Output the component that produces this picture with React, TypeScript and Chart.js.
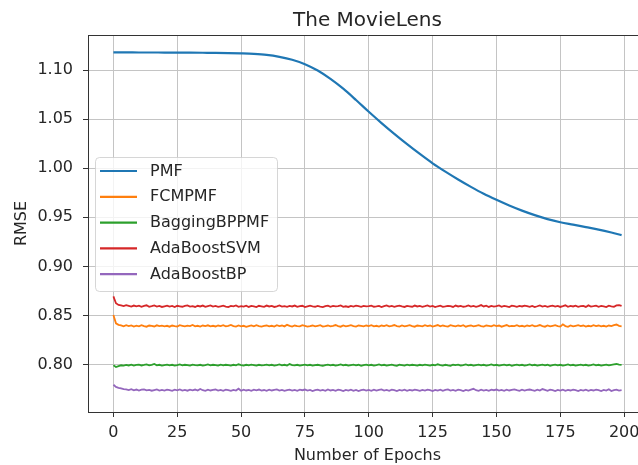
import { useEffect, useRef } from "react";
import { Chart, registerables } from "chart.js";

Chart.register(...registerables);

const FONT = "'DejaVu Sans', 'Liberation Sans', sans-serif";

const chartTitle = "The MovieLens";
const xAxisTitle = "Number of Epochs";
const yAxisTitle = "RMSE";

const seriesNames = ["PMF", "FCMPMF", "BaggingBPPMF", "AdaBoostSVM", "AdaBoostBP"];
const seriesColors = ["#1f77b4", "#ff7f0e", "#2ca02c", "#d62728", "#9467bd"];

const xTickValues = [0, 25, 50, 75, 100, 125, 150, 175, 200];
const yTickValues = [0.8, 0.85, 0.9, 0.95, 1.0, 1.05, 1.1];

// epochs 0..199 for the noisy series
const epochs = Array.from({ length: 200 }, (_, i) => i);

// PMF read at sparse epochs (smooth curve)
const pmfEpochs = [
  0, 5, 10, 15, 20, 25, 30, 35, 40, 45, 50, 55, 60, 65, 70, 75, 80, 85, 90, 95,
  100, 105, 110, 115, 120, 125, 130, 135, 140, 145, 150, 155, 160, 165, 170, 175,
  180, 185, 190, 195, 199,
];
const pmfRmse = [
  1.118, 1.118, 1.1179, 1.1179, 1.1178, 1.1178, 1.1177, 1.1176, 1.1175, 1.1173,
  1.117, 1.1165, 1.1155, 1.1135, 1.1105, 1.106, 1.0995, 1.091, 1.081, 1.0695,
  1.0575, 1.046, 1.035, 1.0245, 1.0145, 1.005, 0.9965, 0.9885, 0.981, 0.974,
  0.9678, 0.962, 0.9568, 0.9522, 0.9482, 0.945, 0.9425, 0.94, 0.9375, 0.9345,
  0.9318,
];

const fcmpmfRmse = [
  0.8505, 0.842, 0.8405, 0.8399, 0.839, 0.8401, 0.8392, 0.8399, 0.8387, 0.8397, 0.839, 0.8402, 0.8392, 0.8386, 0.8398, 0.8395, 0.8388, 0.84, 0.8392, 0.8397,
  0.839, 0.8395, 0.8386, 0.8398, 0.8392, 0.8388, 0.8401, 0.8395, 0.8389, 0.8397, 0.8392, 0.8403, 0.8389, 0.8395, 0.8387, 0.8398, 0.8392, 0.84, 0.8389, 0.8395,
  0.8388, 0.8398, 0.8392, 0.8401, 0.8389, 0.8395, 0.8404, 0.8392, 0.8387, 0.8398, 0.839, 0.8395, 0.8385, 0.8392, 0.8399, 0.8389, 0.8401, 0.8392, 0.8387, 0.8395,
  0.8398, 0.8389, 0.8395, 0.8387, 0.8401, 0.8392, 0.8398, 0.8389, 0.8405, 0.8395, 0.8387, 0.8398, 0.8392, 0.8389, 0.8401, 0.8395, 0.8387, 0.8392, 0.8398, 0.8389,
  0.8395, 0.8401, 0.8387, 0.8392, 0.8398, 0.8389, 0.8395, 0.8403, 0.8392, 0.8386, 0.8398, 0.8389, 0.8395, 0.8401, 0.8392, 0.8387, 0.8398, 0.8395, 0.8389, 0.8398,
  0.8392, 0.8401, 0.8389, 0.8395, 0.8387, 0.8398, 0.8392, 0.8401, 0.8389, 0.8395, 0.8403, 0.8392, 0.8387, 0.8398, 0.8389, 0.8395, 0.8401, 0.8392, 0.8386, 0.8398,
  0.8395, 0.8389, 0.8401, 0.8392, 0.8398, 0.8387, 0.8395, 0.8403, 0.8389, 0.8398, 0.8392, 0.8387, 0.8401, 0.8395, 0.8389, 0.8398, 0.8392, 0.8401, 0.8386, 0.8395,
  0.8398, 0.8389, 0.8395, 0.8401, 0.8392, 0.8387, 0.8398, 0.8395, 0.8389, 0.8401, 0.8392, 0.8398, 0.8386, 0.8395, 0.8403, 0.8389, 0.8395, 0.8392, 0.8401, 0.8389,
  0.8395, 0.8387, 0.8398, 0.8392, 0.8401, 0.8389, 0.8395, 0.8403, 0.8392, 0.8386, 0.8398, 0.8389, 0.8395, 0.8401, 0.8392, 0.8387, 0.841, 0.8392, 0.8385, 0.8398,
  0.8389, 0.8395, 0.8401, 0.8392, 0.8398, 0.8387, 0.8395, 0.8389, 0.8401, 0.8392, 0.8398, 0.8389, 0.8395, 0.8387, 0.8398, 0.8392, 0.8401, 0.8408, 0.8395, 0.839,
];

const baggingRmse = [
  0.7992, 0.7975, 0.7985, 0.7993, 0.7989, 0.7997, 0.7991, 0.7999, 0.7989, 0.7996, 0.8, 0.7991, 0.7996, 0.8002, 0.7992, 0.7998, 0.8006, 0.7992, 0.7998, 0.799,
  0.7995, 0.8, 0.7992, 0.7998, 0.799, 0.7995, 0.8002, 0.7992, 0.7998, 0.7995, 0.799, 0.8, 0.7995, 0.7992, 0.7998, 0.799, 0.7995, 0.8002, 0.7992, 0.7998,
  0.7995, 0.799, 0.8, 0.7992, 0.7998, 0.7995, 0.7989, 0.7998, 0.7992, 0.8003, 0.7995, 0.799, 0.7998, 0.7992, 0.8, 0.7995, 0.7989, 0.7998, 0.7992, 0.7995,
  0.8, 0.7992, 0.7998, 0.799, 0.7995, 0.8002, 0.7992, 0.7998, 0.799, 0.8005, 0.7995, 0.7992, 0.7998, 0.799, 0.7995, 0.8, 0.7992, 0.7998, 0.7989, 0.7995,
  0.7998, 0.7992, 0.7988, 0.7995, 0.8, 0.7992, 0.7998, 0.799, 0.7995, 0.8002, 0.7992, 0.7998, 0.799, 0.7995, 0.8, 0.7992, 0.7998, 0.7988, 0.7995, 0.8,
  0.7992, 0.7998, 0.799, 0.7995, 0.8002, 0.7992, 0.7998, 0.799, 0.7995, 0.8, 0.7992, 0.7987, 0.7998, 0.7995, 0.799, 0.8, 0.7992, 0.7998, 0.7995, 0.799,
  0.7998, 0.7992, 0.8, 0.7995, 0.799, 0.7998, 0.7992, 0.8003, 0.7995, 0.799, 0.7998, 0.7992, 0.7987, 0.7998, 0.7995, 0.8, 0.799, 0.7995, 0.8002, 0.7992,
  0.7998, 0.799, 0.7995, 0.8, 0.7992, 0.7998, 0.799, 0.7995, 0.8002, 0.7992, 0.7998, 0.799, 0.7995, 0.8, 0.7992, 0.7998, 0.7988, 0.7995, 0.8, 0.7992,
  0.7998, 0.799, 0.7995, 0.8002, 0.7992, 0.7998, 0.799, 0.7995, 0.8, 0.7992, 0.7998, 0.7988, 0.7995, 0.8, 0.7992, 0.7998, 0.799, 0.7995, 0.8002, 0.7992,
  0.7998, 0.799, 0.7995, 0.8, 0.7992, 0.7998, 0.799, 0.7995, 0.8002, 0.7992, 0.7998, 0.799, 0.7995, 0.8, 0.7992, 0.7998, 0.8002, 0.8006, 0.7999, 0.7996,
];

const adaSvmRmse = [
  0.8695, 0.8625, 0.8608, 0.8603, 0.8596, 0.8606, 0.8598, 0.859, 0.8601, 0.8593, 0.86, 0.8588, 0.8597, 0.8604, 0.8589, 0.8595, 0.8602, 0.8591, 0.8598, 0.8587,
  0.8594, 0.8601, 0.859, 0.8597, 0.8586, 0.8599, 0.8594, 0.8589, 0.8598, 0.8603, 0.8591, 0.8596, 0.8587, 0.8599, 0.8592, 0.8601, 0.8588, 0.8595, 0.8602, 0.859,
  0.8597, 0.8588, 0.8594, 0.86, 0.8591, 0.8586, 0.8598, 0.8593, 0.8603, 0.8589, 0.8595, 0.8591, 0.86, 0.8587, 0.8597, 0.8592, 0.8586, 0.8599, 0.8594, 0.8588,
  0.8601, 0.8592, 0.8597, 0.8587, 0.8594, 0.8602, 0.859, 0.8596, 0.8589, 0.8598, 0.8592, 0.8601, 0.8588, 0.8595, 0.8599, 0.8586, 0.8593, 0.86, 0.8594, 0.8589,
  0.8598, 0.8591, 0.8586, 0.8596, 0.8601, 0.8589, 0.8597, 0.8592, 0.8595, 0.8603, 0.8588, 0.8594, 0.8587, 0.8598, 0.8591, 0.86, 0.8595, 0.8588, 0.8597, 0.8592,
  0.8596, 0.8601, 0.8589, 0.8593, 0.8598, 0.8586, 0.8595, 0.8603, 0.8591, 0.8597, 0.8589, 0.8595, 0.86, 0.8592, 0.8587, 0.8598, 0.8594, 0.8589, 0.8601, 0.8592,
  0.8597, 0.8589, 0.8595, 0.8602, 0.8591, 0.8598, 0.8586, 0.8594, 0.86, 0.8588, 0.8592, 0.8598, 0.8595, 0.8587, 0.8601, 0.8592, 0.8597, 0.8589, 0.8594, 0.8603,
  0.8591, 0.8597, 0.8589, 0.8595, 0.8606, 0.8592, 0.86, 0.8587, 0.8597, 0.8591, 0.8595, 0.8602, 0.8589, 0.8598, 0.8592, 0.8586, 0.86, 0.8595, 0.8589, 0.8597,
  0.8592, 0.8601, 0.8595, 0.8588, 0.8598, 0.8586, 0.8594, 0.8603, 0.8591, 0.8597, 0.8589, 0.8595, 0.8601, 0.8591, 0.8598, 0.8587, 0.8595, 0.8604, 0.8589, 0.8597,
  0.8592, 0.86, 0.8589, 0.8595, 0.8598, 0.8587, 0.8603, 0.8591, 0.8595, 0.86, 0.8589, 0.8597, 0.8592, 0.8586, 0.86, 0.8594, 0.8589, 0.8603, 0.8606, 0.8597,
];

const adaBpRmse = [
  0.7795, 0.7772, 0.7763, 0.7757, 0.7749, 0.7747, 0.7741, 0.775, 0.7738, 0.7746, 0.7735, 0.7744, 0.7748, 0.7737, 0.7743, 0.7734, 0.7741, 0.7747, 0.7736, 0.7743,
  0.7735, 0.7745, 0.774, 0.7733, 0.7744, 0.7738, 0.7747, 0.7735, 0.7742, 0.7734, 0.7744, 0.7738, 0.7746, 0.7735, 0.7751, 0.7739, 0.7733, 0.7744, 0.7736, 0.7742,
  0.7746, 0.7735, 0.7742, 0.7733, 0.7744, 0.7739, 0.7732, 0.7742, 0.7735, 0.7754, 0.7733, 0.7745, 0.7736, 0.7742, 0.7733, 0.7744, 0.7738, 0.7746, 0.7735, 0.7741,
  0.7733, 0.7744, 0.7736, 0.7742, 0.7747, 0.7735, 0.7742, 0.7732, 0.7739, 0.7745, 0.7735, 0.7742, 0.7733, 0.7744, 0.7739, 0.7746, 0.7735, 0.7742, 0.7731, 0.7739,
  0.7745, 0.7735, 0.7742, 0.7733, 0.7746, 0.7736, 0.7742, 0.7733, 0.7744, 0.7739, 0.7731, 0.7742, 0.7735, 0.7745, 0.7733, 0.7742, 0.773, 0.7739, 0.7745, 0.7735,
  0.7742, 0.7733, 0.7745, 0.7735, 0.7742, 0.7747, 0.7735, 0.7742, 0.7733, 0.7744, 0.7739, 0.7731, 0.7742, 0.7735, 0.7745, 0.7733, 0.7742, 0.7736, 0.7745, 0.7739,
  0.7733, 0.7742, 0.7735, 0.7745, 0.7739, 0.7731, 0.7742, 0.7735, 0.7745, 0.7733, 0.7742, 0.7747, 0.7735, 0.7742, 0.7733, 0.7744, 0.7739, 0.7731, 0.7742, 0.7735,
  0.7745, 0.7753, 0.7739, 0.7733, 0.7744, 0.7735, 0.7742, 0.7733, 0.7745, 0.7739, 0.7746, 0.7735, 0.7742, 0.7733, 0.7744, 0.7736, 0.7742, 0.7747, 0.7739, 0.7733,
  0.7744, 0.7735, 0.7742, 0.7746, 0.7739, 0.7733, 0.7744, 0.7735, 0.7751, 0.7742, 0.7733, 0.7744, 0.7739, 0.7731, 0.7742, 0.7735, 0.7745, 0.7733, 0.7742, 0.7736,
  0.7745, 0.7739, 0.7731, 0.7742, 0.7735, 0.7745, 0.7733, 0.7742, 0.7736, 0.7745, 0.7739, 0.7731, 0.7742, 0.7735, 0.7749, 0.773, 0.7739, 0.7745, 0.7735, 0.7739,
];

const X_MIN = -9.95;
const X_MAX = 208.95;
const Y_MIN = 0.7517;
const Y_MAX = 1.1357;

const TEXT_COLOR = "#262626";
const AXIS_COLOR = "#333333";
const GRID_COLOR = "#c4c4c4";

const decorPlugin = {
  id: "decor",
  afterDraw(chart: any) {
    const { ctx, chartArea } = chart;
    ctx.save();
    // top spine
    ctx.strokeStyle = AXIS_COLOR;
    ctx.lineWidth = 1;
    ctx.beginPath();
    ctx.moveTo(chartArea.left, chartArea.top + 0.5);
    ctx.lineTo(chartArea.right, chartArea.top + 0.5);
    ctx.stroke();

    // title
    ctx.fillStyle = TEXT_COLOR;
    ctx.font = `20px ${FONT}`;
    ctx.textAlign = "center";
    ctx.textBaseline = "alphabetic";
    ctx.fillText(chartTitle, (chartArea.left + chartArea.right) / 2, 26);

    // legend
    const bx = 95.5;
    const by = 157.5;
    const bw = 182;
    const bh = 134;
    const r = 4;
    ctx.beginPath();
    ctx.moveTo(bx + r, by);
    ctx.lineTo(bx + bw - r, by);
    ctx.arcTo(bx + bw, by, bx + bw, by + r, r);
    ctx.lineTo(bx + bw, by + bh - r);
    ctx.arcTo(bx + bw, by + bh, bx + bw - r, by + bh, r);
    ctx.lineTo(bx + r, by + bh);
    ctx.arcTo(bx, by + bh, bx, by + bh - r, r);
    ctx.lineTo(bx, by + r);
    ctx.arcTo(bx, by, bx + r, by, r);
    ctx.closePath();
    ctx.fillStyle = "rgba(255,255,255,0.8)";
    ctx.fill();
    ctx.strokeStyle = "rgba(204,204,204,0.8)";
    ctx.lineWidth = 1;
    ctx.stroke();

    const datasets = chart.data.datasets;
    ctx.font = `16px ${FONT}`;
    ctx.textAlign = "left";
    ctx.textBaseline = "middle";
    datasets.forEach((ds: any, i: number) => {
      const y = 171 + i * 25.8;
      ctx.strokeStyle = ds.borderColor;
      ctx.lineWidth = 2.2;
      ctx.beginPath();
      ctx.moveTo(100, y);
      ctx.lineTo(137, y);
      ctx.stroke();
      ctx.fillStyle = TEXT_COLOR;
      ctx.fillText(ds.label, 150, y + 0.5);
    });
    ctx.restore();
  },
};

export default function App() {
  const ref = useRef<HTMLCanvasElement | null>(null);

  useEffect(() => {
    if (!ref.current) return;
    const noisy = [fcmpmfRmse, baggingRmse, adaSvmRmse, adaBpRmse];
    const datasets = [
      {
        label: seriesNames[0],
        data: pmfRmse.map((v, i) => ({ x: pmfEpochs[i], y: v })),
        borderColor: seriesColors[0],
        backgroundColor: seriesColors[0],
        borderWidth: 2.2,
        pointRadius: 0,
        cubicInterpolationMode: "monotone" as const,
        fill: false,
      },
      ...noisy.map((arr, k) => ({
        label: seriesNames[k + 1],
        data: arr.map((v, i) => ({ x: epochs[i], y: v })),
        borderColor: seriesColors[k + 1],
        backgroundColor: seriesColors[k + 1],
        borderWidth: 1.8,
        pointRadius: 0,
        tension: 0,
        fill: false,
      })),
    ];

    const chart = new Chart(ref.current, {
      type: "line",
      data: { datasets },
      plugins: [decorPlugin],
      options: {
        animation: false,
        responsive: false,
        maintainAspectRatio: false,
        layout: { padding: { top: 35, left: 0, right: 0, bottom: 0 } },
        plugins: {
          legend: { display: false },
          tooltip: { enabled: false },
          title: { display: false },
        },
        scales: {
          x: {
            type: "linear",
            min: X_MIN,
            max: X_MAX,
            afterBuildTicks: (scale: any) => {
              scale.ticks = xTickValues.map((v) => ({ value: v }));
            },
            afterFit: (scale: any) => {
              scale.height = 53;
            },
            grid: {
              color: GRID_COLOR,
              lineWidth: 1,
              tickLength: 5,
              tickColor: AXIS_COLOR,
              tickWidth: 1,
            },
            border: { display: true, color: AXIS_COLOR, width: 1 },
            ticks: {
              color: TEXT_COLOR,
              font: { family: FONT, size: 16 },
              padding: 6,
              maxRotation: 0,
              autoSkip: false,
              callback: (v: any) => String(v),
            },
            title: {
              display: true,
              text: xAxisTitle,
              color: TEXT_COLOR,
              font: { family: FONT, size: 16 },
              padding: { top: 0, bottom: 0 },
            },
          },
          y: {
            type: "linear",
            min: Y_MIN,
            max: Y_MAX,
            afterBuildTicks: (scale: any) => {
              scale.ticks = yTickValues.map((v) => ({ value: v }));
            },
            afterFit: (scale: any) => {
              scale.width = 88;
            },
            grid: {
              color: GRID_COLOR,
              lineWidth: 1,
              tickLength: 5,
              tickColor: AXIS_COLOR,
              tickWidth: 1,
            },
            border: { display: true, color: AXIS_COLOR, width: 1 },
            ticks: {
              color: TEXT_COLOR,
              font: { family: FONT, size: 16 },
              padding: 10,
              autoSkip: false,
              callback: (v: any) => Number(v).toFixed(2),
            },
            title: {
              display: true,
              text: yAxisTitle,
              color: TEXT_COLOR,
              font: { family: FONT, size: 16 },
              padding: { top: 12, bottom: 0 },
            },
          },
        },
      },
    });
    return () => chart.destroy();
  }, []);

  return (
    <div
      style={{
        position: "absolute",
        left: 0,
        top: 0,
        width: 638,
        height: 465,
        overflow: "hidden",
        background: "#ffffff",
      }}
    >
      <canvas ref={ref} width={647} height={465} style={{ display: "block" }} />
    </div>
  );
}
